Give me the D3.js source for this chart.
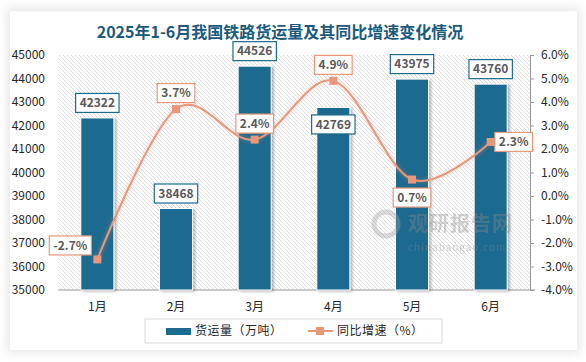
<!DOCTYPE html>
<html>
<head>
<meta charset="utf-8">
<script src="https://cdn.jsdelivr.net/npm/d3@7"></script>
<style>
  html, body { margin: 0; padding: 0; background: #fff; }
  #card {
    position: absolute; left: 10px; top: 11px; width: 567px; height: 339px;
    background: #fff; box-shadow: 0 0 10px 3px rgba(0,0,0,0.10);
  }
  svg { position: absolute; left: 0; top: 0; }
  text { font-family: "Noto Sans CJK SC", "Noto Sans", sans-serif; }
</style>
</head>
<body>
<div id="card"></div>
<div id="chart"></div>
<script>
const months = ["1月", "2月", "3月", "4月", "5月", "6月"];
const freight = [42322, 38468, 44526, 42769, 43975, 43760];
const growth = [-2.7, 3.7, 2.4, 4.9, 0.7, 2.3];
const leftTicks = [35000, 36000, 37000, 38000, 39000, 40000, 41000, 42000, 43000, 44000, 45000];
const rightTicks = [-4, -3, -2, -1, 0, 1, 2, 3, 4, 5, 6];

// where each data label sits
const barLabelPos = ["top", "top", "top", "inside", "top", "top"];
const lineLabelPos = ["left", "top", "top", "top", "bottom", "right"];

const width = 586, height = 362;
const plot = { left: 58, right: 530, top: 55, bottom: 290 };
const blue = "#1d6a8f", orange = "#e8977a", textGray = "#595959";

const svg = d3.select("#chart").append("svg")
  .attr("width", width).attr("height", height);

const defs = svg.append("defs");
const pat = defs.append("pattern").attr("id", "hatch")
  .attr("patternUnits", "userSpaceOnUse").attr("width", 4).attr("height", 4);
pat.append("rect").attr("width", 4).attr("height", 4).attr("fill", "#fff");
pat.append("path").attr("d", "M-1,-1 L5,5 M-1,3 L1,5 M3,-1 L5,1")
  .attr("stroke", "#d6d6d6").attr("stroke-width", 0.8);

const shadow = defs.append("filter").attr("id", "shadow")
  .attr("x", "-30%").attr("y", "-10%").attr("width", "160%").attr("height", "130%");
shadow.append("feDropShadow").attr("dx", 2).attr("dy", 1).attr("stdDeviation", 1.5)
  .attr("flood-color", "#000").attr("flood-opacity", 0.3);

const glow = defs.append("filter").attr("id", "glow")
  .attr("x", "-10%").attr("y", "-10%").attr("width", "120%").attr("height", "120%");
glow.append("feDropShadow").attr("dx", 0).attr("dy", 0).attr("stdDeviation", 2)
  .attr("flood-color", orange).attr("flood-opacity", 0.5);

const x = d3.scaleBand().domain(months).range([plot.left, plot.right]).paddingInner(0.58).paddingOuter(0.29);
const yL = d3.scaleLinear().domain([35000, 45000]).range([plot.bottom, plot.top]);
const yR = d3.scaleLinear().domain([-4, 6]).range([plot.bottom, plot.top]);
const cx = m => x(m) + x.bandwidth() / 2;

// title
svg.append("text").attr("x", 280).attr("y", 38).attr("text-anchor", "middle")
  .attr("font-size", 16).attr("font-weight", "bold").attr("fill", "#1b5a7c")
  .text("2025年1-6月我国铁路货运量及其同比增速变化情况");

// hatched plot background
svg.append("rect").attr("x", plot.left).attr("y", plot.top)
  .attr("width", plot.right - plot.left).attr("height", plot.bottom - plot.top)
  .attr("fill", "url(#hatch)");

// left axis
const gL = svg.append("g").attr("transform", `translate(${plot.left - 13},0)`)
  .call(d3.axisLeft(yL).tickValues(leftTicks).tickSize(0).tickPadding(0).tickFormat(d3.format("d")));
gL.select(".domain").remove();
gL.selectAll("text").attr("font-size", 12).attr("fill", "#262626").attr("font-family", "Noto Sans, sans-serif");

// right axis
const gR = svg.append("g").attr("transform", `translate(${plot.right},0)`)
  .call(d3.axisRight(yR).tickValues(rightTicks).tickSize(4).tickPadding(7).tickFormat(d => d.toFixed(1) + "%"));
gR.select(".domain").attr("stroke", "#999");
gR.selectAll("line").attr("stroke", "#999");
gR.selectAll("text").attr("font-size", 12).attr("fill", "#262626").attr("font-family", "Noto Sans, sans-serif");

// bottom axis
const gB = svg.append("g").attr("transform", `translate(0,${plot.bottom})`)
  .call(d3.axisBottom(x).tickSize(0).tickPadding(12));
gB.select(".domain").attr("stroke", "#999").attr("d", `M${plot.left},0H${plot.right + 5}`);
gB.selectAll("text").attr("font-size", 12).attr("fill", "#262626");

// bars
svg.append("g").selectAll("rect").data(months).join("rect")
  .attr("x", m => x(m)).attr("width", x.bandwidth())
  .attr("y", (m, i) => yL(freight[i]))
  .attr("height", (m, i) => plot.bottom - yL(freight[i]))
  .attr("fill", blue).attr("stroke", "#fff").attr("stroke-width", 1)
  .attr("filter", "url(#shadow)");

// watermark (sits over the bars)
const wm = svg.append("g").attr("opacity", 0.38);
wm.append("circle").attr("cx", 386).attr("cy", 224).attr("r", 12)
  .attr("fill", "none").attr("stroke", "#a0a0a0").attr("stroke-width", 5);
wm.append("text").attr("x", 408).attr("y", 231).attr("font-size", 20).attr("font-weight", "bold")
  .attr("fill", "#8a8a8a").attr("letter-spacing", 1).text("观研报告网");
wm.append("text").attr("x", 408).attr("y", 251).attr("font-size", 10)
  .attr("fill", "#8a8a8a").attr("letter-spacing", 1).text("chinabaogao.com");

// line
const line = d3.line().x((d, i) => cx(months[i])).y(d => yR(d)).curve(d3.curveCardinal.tension(0));
svg.append("path").datum(growth).attr("d", line)
  .attr("fill", "none").attr("stroke", orange).attr("stroke-width", 2)
  .attr("filter", "url(#glow)");
svg.append("g").selectAll("rect").data(growth).join("rect")
  .attr("x", (d, i) => cx(months[i]) - 4).attr("y", d => yR(d) - 4)
  .attr("width", 8).attr("height", 8).attr("fill", orange);

// label boxes
function labelBox(g, cxp, cyp, txt, border) {
  const t = g.append("text").attr("x", cxp).attr("y", cyp).attr("dy", "0.36em")
    .attr("text-anchor", "middle").attr("font-size", 12).attr("font-weight", "bold")
    .attr("fill", textGray).attr("font-family", "Noto Sans, sans-serif").text(txt);
  const w = t.node().getComputedTextLength() + 8, h = 19;
  g.insert("rect", "text").attr("x", cxp - w / 2).attr("y", cyp - h / 2)
    .attr("width", w).attr("height", h).attr("fill", "#fff")
    .attr("stroke", border).attr("stroke-width", 1.2);
  return w;
}

months.forEach((m, i) => {
  const g = svg.append("g");
  const top = yL(freight[i]);
  const cy = barLabelPos[i] === "inside" ? top + 17 : top - 15;
  labelBox(g, cx(m), cy, String(freight[i]), blue);
});

months.forEach((m, i) => {
  const g = svg.append("g");
  const px = cx(m), py = yR(growth[i]);
  const txt = growth[i].toFixed(1) + "%";
  const pos = lineLabelPos[i];
  if (pos === "top") labelBox(g, px, py - 16, txt, orange);
  else if (pos === "bottom") labelBox(g, px, py + 18, txt, orange);
  else if (pos === "left") labelBox(g, px - 27, py - 14, txt, orange);
  else labelBox(g, px + 23, py, txt, orange);
});

// legend
const lg = svg.append("g");
lg.append("rect").attr("x", 145).attr("y", 319).attr("width", 297).attr("height", 24)
  .attr("fill", "#fff").attr("stroke", "#d9d9d9");
lg.append("rect").attr("x", 166).attr("y", 328).attr("width", 25).attr("height", 7).attr("fill", blue);
lg.append("text").attr("x", 195).attr("y", 331).attr("dy", "0.36em").attr("font-size", 12)
  .attr("fill", "#262626").attr("letter-spacing", 0.5).text("货运量（万吨）");
lg.append("line").attr("x1", 308).attr("x2", 333).attr("y1", 331).attr("y2", 331)
  .attr("stroke", orange).attr("stroke-width", 2);
lg.append("rect").attr("x", 316).attr("y", 327).attr("width", 8).attr("height", 8).attr("fill", orange);
lg.append("text").attr("x", 337).attr("y", 331).attr("dy", "0.36em").attr("font-size", 12)
  .attr("fill", "#262626").attr("letter-spacing", 0.5).text("同比增速（%）");
</script>
</body>
</html>
